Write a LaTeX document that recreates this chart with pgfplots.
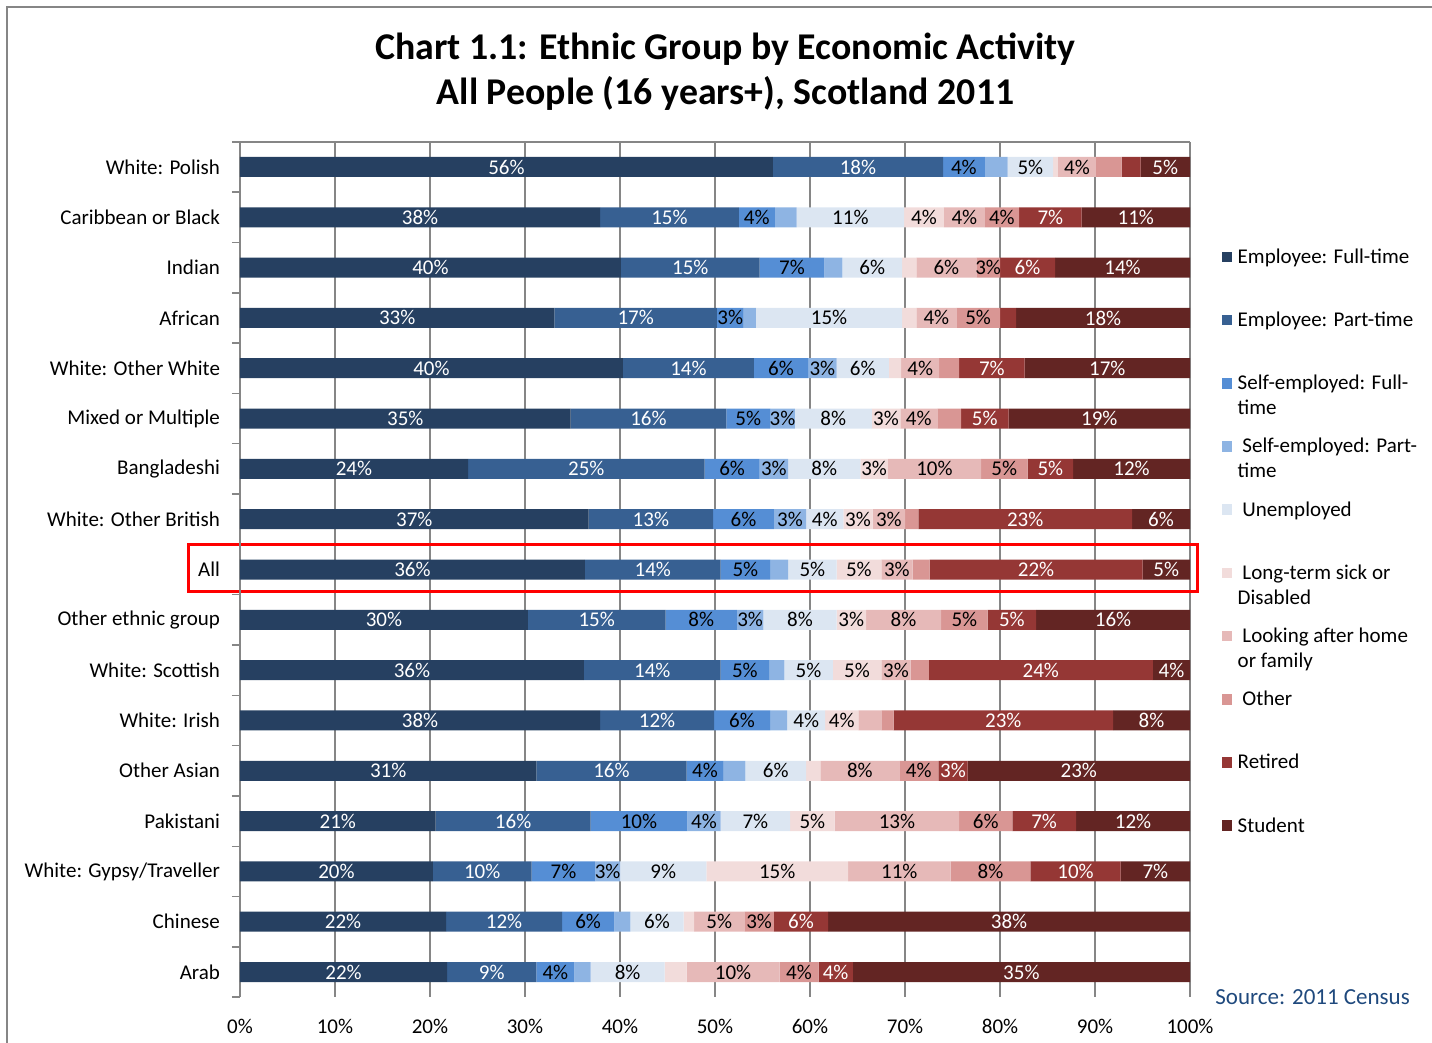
\documentclass[border=0pt]{standalone}
\usepackage{pgfplots}
\pgfplotsset{compat=1.18}
\usepackage{pgfplotstable}
\usepackage{fontspec}
\setmainfont{Carlito}

\definecolor{c1}{RGB}{38,64,97}
\definecolor{c2}{RGB}{55,96,146}
\definecolor{c3}{RGB}{85,142,213}
\definecolor{c4}{RGB}{142,180,227}
\definecolor{c5}{RGB}{220,230,242}
\definecolor{c6}{RGB}{242,220,219}
\definecolor{c7}{RGB}{230,185,184}
\definecolor{c8}{RGB}{217,150,148}
\definecolor{c9}{RGB}{149,55,53}
\definecolor{c10}{RGB}{99,37,35}
\definecolor{gridgray}{RGB}{134,134,134}
\definecolor{srcblue}{RGB}{31,73,125}

\newcommand\fs{\fontsize{10.5}{12.5}\selectfont}
\newcommand\mylab{\ifnum\pgfplotspointmeta>0 \pgfplotspointmeta\%\fi}
\newcommand\legtext[1]{\parbox[t][31.6pt][t]{110pt}{\strut #1}}

\pgfplotstableread{
y v1 v2 v3 v4 v5 v6 v7 v8 v9 v10 l1 l2 l3 l4 l5 l6 l7 l8 l9 l10
0 56.1 17.9 4.4 2.4 4.8 0.5 4.0 2.7 2.0 5.2 56 18 4 0 5 0 4 0 0 5
1 37.9 14.6 3.8 2.3 11.3 4.2 4.3 3.6 6.6 11.4 38 15 4 0 11 4 4 4 7 11
2 40.1 14.6 6.8 1.9 6.3 1.5 6.3 2.5 5.8 14.2 40 15 7 0 6 0 6 3 6 14
3 33.1 17.1 2.8 1.3 15.4 1.5 4.2 4.6 1.7 18.3 33 17 3 0 15 0 4 5 0 18
4 40.3 13.8 5.7 3.0 5.5 1.3 4.0 2.1 6.9 17.4 40 14 6 3 6 0 4 0 7 17
5 34.8 16.4 4.6 2.6 8.1 3.0 3.9 2.5 5.0 19.1 35 16 5 3 8 3 4 0 5 19
6 24.0 24.9 5.8 3.0 7.6 2.9 9.8 4.9 4.8 12.3 24 25 6 3 8 3 10 5 5 12
7 36.7 13.1 6.4 3.4 3.9 3.1 3.4 1.4 22.5 6.1 37 13 6 3 4 3 3 0 23 6
8 36.3 14.3 5.2 1.9 5.1 4.7 3.3 1.8 22.4 5.0 36 14 5 0 5 5 3 0 22 5
9 30.3 14.5 7.5 2.8 7.7 3.1 7.9 4.9 5.1 16.2 30 15 8 3 8 3 8 5 5 16
10 36.2 14.4 5.1 1.6 5.1 5.1 3.1 1.9 23.6 3.9 36 14 5 0 5 5 3 0 24 4
11 37.9 12.0 5.9 1.8 4.0 3.5 2.4 1.3 23.1 8.1 38 12 6 0 4 4 0 0 23 8
12 31.2 15.8 3.9 2.3 6.4 1.5 8.3 4.1 3.1 23.4 31 16 4 0 6 0 8 4 3 23
13 20.6 16.3 10.2 3.5 7.3 4.7 13.1 5.6 6.7 12.0 21 16 10 4 7 5 13 6 7 12
14 20.3 10.4 6.7 2.6 9.1 14.9 10.8 8.4 9.5 7.3 20 10 7 3 9 15 11 8 10 7
15 21.7 12.2 5.5 1.7 5.6 1.1 5.3 3.1 5.7 38.1 22 12 6 0 6 0 5 3 6 38
16 21.8 9.4 4.0 1.7 7.8 2.3 9.8 4.1 3.6 35.5 22 9 4 0 8 0 10 4 4 35
}\datatable

\newcommand\seg[4]{%
  \addplot[fill=#2, draw=none,
    every node near coord/.append style={text=#3},
    legend image code/.code={\fill[#2] (0pt,0.6pt) rectangle (5.3pt,5.9pt);}]
    table[x=v#1, y=y, meta=l#1]{\datatable};
  \addlegendentry{\legtext{#4}}
}

\begin{document}
\begin{tikzpicture}
\useasboundingbox (0,0) rectangle (716pt,-521.5pt);
\draw[gridgray, line width=1pt] (3.5pt,-600pt) -- (3.5pt,-3.5pt) -- (760pt,-3.5pt);
\node[anchor=base, font=\fontsize{18.9}{22}\selectfont\bfseries] at (362.75pt,-30pt) {Chart 1.1: Ethnic Group by Economic Activity};
\node[anchor=base, font=\fontsize{18.9}{22}\selectfont\bfseries] at (362.75pt,-52.5pt) {All People (16 years+), Scotland 2011};
\begin{axis}[
  at={(120pt,-498.6pt)}, anchor=south west,
  scale only axis, width=475pt, height=427.7pt,
  xbar stacked, bar width=10pt,
  xmin=0, xmax=100, ymin=-0.5, ymax=16.5, y dir=reverse,
  enlargelimits=false, clip=false,
  axis line style={draw=none},
  tick pos=left,
  xtick={0,10,...,100},
  xticklabels={0\%,10\%,20\%,30\%,40\%,50\%,60\%,70\%,80\%,90\%,100\%},
  xmajorgrids, major grid style={gridgray, line width=0.75pt},
  ytick={0,...,16},
  yticklabels={{White: Polish},{Caribbean or Black},{Indian},{African},{White: Other White},{Mixed or Multiple},{Bangladeshi},{White: Other British},{All},{Other ethnic group},{White: Scottish},{White: Irish},{Other Asian},{Pakistani},{White: Gypsy/Traveller},{Chinese},{Arab}},
  minor ytick={-0.5,0.5,...,16.5},
  major tick length=0pt, minor tick length=4pt, tick align=outside,
  minor tick style={gridgray, line width=0.75pt},
  yticklabel style={font=\fs, xshift=-6.5pt},
  xticklabel style={font=\fs, yshift=-7.3pt},
  point meta=explicit symbolic,
  nodes near coords={\mylab},
  every node near coord/.append style={font=\fs, anchor=center},
  legend cell align=left,
  legend style={at={(1.0334,0.8784)}, anchor=north west, draw=none, fill=none,
    inner sep=0pt, outer sep=0pt, row sep=0pt, column sep=2.7pt, font=\fs,
    cells={anchor=base west}, nodes={inner sep=0pt, text depth=}},
]
\seg{1}{c1}{white}{Employee: Full-time}
\seg{2}{c2}{white}{Employee: Part-time}
\seg{3}{c3}{black}{Self-employed: Full-\\time}
\seg{4}{c4}{black}{\ Self-employed: Part-\\time}
\seg{5}{c5}{black}{\ Unemployed}
\seg{6}{c6}{black}{\ Long-term sick or\\Disabled}
\seg{7}{c7}{black}{\ Looking after home\\or family}
\seg{8}{c8}{black}{\ Other}
\seg{9}{c9}{white}{Retired}
\seg{10}{c10}{white}{Student}
\draw[gridgray, line width=0.75pt] (axis cs:0,16.5) -- (axis cs:0,-0.5) -- (axis cs:100,-0.5);
\draw[red, line width=1.5pt] (axis cs:-5.47,7.503) rectangle (axis cs:100.8,8.437);
\end{axis}
\node[anchor=base west, font=\fontsize{11.5}{13}\selectfont, text=srcblue, inner sep=0pt] at (607.5pt,-502.2pt) {Source: 2011 Census};
\end{tikzpicture}
\end{document}
